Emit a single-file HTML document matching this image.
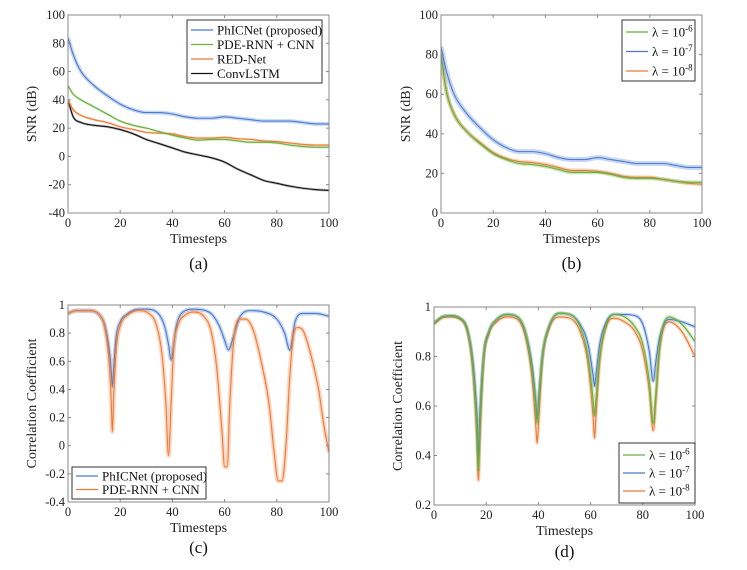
<!DOCTYPE html>
<html><head><meta charset="utf-8">
<style>
body{margin:0;background:#fff;}
svg{display:block;font-family:"Liberation Serif",serif;}
</style></head>
<body>
<svg id="fig" width="747" height="570" viewBox="0 0 747 570"></svg>
<script>
// ---------- data ----------
const snrX = [0,2,5,10,15,20,25,30,35,40,45,50,55,60,65,70,75,80,85,90,95,100];
const aPhic = [84,72,60,50,43,37,33,31,31,30,28,27,27,28,27,26,25,25,25,24,23,23];
const aPde  = [50,44,40,35,30,25,22,20,17.5,15,13,11.5,12,12,11,10,10,9.5,8,7,6.5,6.5];
const aRed  = [40,33,29,26,24,21,19,17,16.5,16,14,13,13,13.5,12.5,12,11,10.5,9.5,8.5,8,8];
const aConv = [40,28,24,22,21,19,16,12,9,6,3,1,-1,-4,-9,-13,-17,-19,-21,-22.5,-23.5,-24];
const bL6 = [80,62,50,41,35,30,27,25,24.5,23.5,22,20.5,20.5,20.5,19.5,18,17.5,17.5,17,16,15.5,15.5];
const bL7 = [84,72,60,50,43,37,33,31,31,30,28,27,27,28,27,26,25,25,25,24,23,23];
const bL8 = [80,62,50,41,35.5,30.5,27.5,26,25.5,24.5,23,21.5,21.5,21,20,18.5,18,18,17,16,15,14.5];
const snrAYTicks = [-40,-20,0,20,40,60,80,100];
const snrBYTicks = [0,20,40,60,80,100];
const xTicks = [0,20,40,60,80,100];

const cPdeX = [0,3,8,12,14,15.5,16.5,17,17.5,18.5,20,23,27,31,34,36,37.5,38.5,39.5,40.5,42,45,48,52,55,57,59,60,61,62,63.5,66,68,71,74,77,79,80.5,82,83.5,85,86.5,88,90,93,96,98,100];
const cPdeY = [0.94,0.96,0.96,0.93,0.85,0.65,0.35,0.1,0.35,0.7,0.85,0.93,0.96,0.94,0.85,0.65,0.3,-0.07,0.3,0.7,0.85,0.93,0.95,0.92,0.8,0.55,0.1,-0.15,-0.15,0.3,0.75,0.9,0.9,0.82,0.6,0.3,-0.05,-0.25,-0.25,0,0.5,0.8,0.84,0.82,0.65,0.4,0.15,-0.05];
const cPhicX = [0,3,8,12,14,15.5,16.5,17,17.5,18.5,20,23,27,30,34,37,38.5,39.5,40.5,41.5,44,48,54,58,60,61.5,63,66,70,75,80,83,85,87,90,95,100];
const cPhicY = [0.94,0.96,0.96,0.93,0.86,0.72,0.55,0.42,0.55,0.78,0.88,0.94,0.97,0.97,0.95,0.85,0.72,0.61,0.72,0.85,0.95,0.97,0.95,0.85,0.75,0.68,0.75,0.92,0.96,0.95,0.9,0.8,0.68,0.88,0.94,0.94,0.92];
const cYTicks = [-0.4,-0.2,0,0.2,0.4,0.6,0.8,1];

const dX = [0,3,6,10,13,15,16.5,17,17.5,19,21,24,28,32,35,37.5,39,39.5,40,41.5,44,48,52,56,59,61,61.5,62,63.5,66,69,73,77,80,82.5,84,85,86.5,90,95,100];
const dL6 = [0.935,0.96,0.965,0.955,0.9,0.75,0.5,0.34,0.5,0.8,0.9,0.95,0.97,0.96,0.9,0.75,0.6,0.53,0.6,0.8,0.92,0.975,0.97,0.92,0.8,0.62,0.56,0.62,0.8,0.93,0.97,0.96,0.92,0.85,0.7,0.53,0.65,0.85,0.96,0.93,0.86];
const dL7 = [0.935,0.96,0.965,0.955,0.9,0.77,0.55,0.4,0.55,0.8,0.9,0.95,0.97,0.96,0.9,0.77,0.62,0.55,0.62,0.8,0.92,0.975,0.97,0.93,0.85,0.72,0.68,0.72,0.85,0.94,0.97,0.97,0.965,0.93,0.82,0.7,0.78,0.88,0.95,0.94,0.92];
const dL8 = [0.93,0.955,0.96,0.95,0.89,0.73,0.45,0.3,0.45,0.78,0.89,0.94,0.96,0.95,0.88,0.72,0.52,0.45,0.52,0.78,0.91,0.96,0.955,0.9,0.77,0.55,0.47,0.55,0.78,0.92,0.955,0.94,0.9,0.82,0.66,0.5,0.62,0.83,0.94,0.9,0.8];
const dYTicks = [0.2,0.4,0.6,0.8,1];

// ---------- helpers ----------
const NS="http://www.w3.org/2000/svg";
const svg=document.getElementById('fig');
function mk(tag,attrs,parent){const e=document.createElementNS(NS,tag);for(const k in attrs)e.setAttribute(k,attrs[k]);(parent||svg).appendChild(e);return e;}
function monoPath(xs,ys){
  const n=xs.length,d=[],m=[];
  for(let i=0;i<n-1;i++)d.push((ys[i+1]-ys[i])/(xs[i+1]-xs[i]));
  m[0]=d[0];m[n-1]=d[n-2];
  for(let i=1;i<n-1;i++)m[i]=(d[i-1]*d[i]<=0)?0:(d[i-1]+d[i])/2;
  for(let i=0;i<n-1;i++){if(d[i]===0){m[i]=0;m[i+1]=0;continue;}const a=m[i]/d[i],b=m[i+1]/d[i],s=a*a+b*b;if(s>9){const t=3/Math.sqrt(s);m[i]=t*a*d[i];m[i+1]=t*b*d[i];}}
  let p='M'+xs[0].toFixed(2)+','+ys[0].toFixed(2);
  for(let i=0;i<n-1;i++){const h=(xs[i+1]-xs[i])/3;p+=' C'+(xs[i]+h).toFixed(2)+','+(ys[i]+m[i]*h).toFixed(2)+' '+(xs[i+1]-h).toFixed(2)+','+(ys[i+1]-m[i+1]*h).toFixed(2)+' '+xs[i+1].toFixed(2)+','+ys[i+1].toFixed(2);}
  return p;
}
function panel(o){
  const g=mk('g',{});
  
  
  const sx=v=>o.x0+(v-0)/(100)*(o.x1-o.x0);
  const sy=v=>o.y1-(v-o.ymin)/(o.ymax-o.ymin)*(o.y1-o.y0);
  const clipId='clip-'+o.name;
  const cp=mk('clipPath',{id:clipId},g);mk('rect',{x:o.x0,y:o.y0,width:o.x1-o.x0,height:o.y1-o.y0},cp);
  const plot=mk('g',{'clip-path':'url(#'+clipId+')'},g);
  
  
  o.series.forEach(s=>{
    const xs=s.x.map(sx),ys=s.y.map(sy);
    if(s.band){
      const band=mk('path',{d:monoPath(xs,ys),fill:'none',stroke:s.color,'stroke-width':s.band,opacity:0.3,'stroke-linejoin':'round'},plot);
      
      
    }
    const ln=mk('path',{d:monoPath(xs,ys),fill:'none',stroke:s.color,'stroke-width':1.1},plot);
    
    
  });
  const fr=mk('rect',{x:o.x0,y:o.y0,width:o.x1-o.x0,height:o.y1-o.y0,fill:'none',stroke:'#888','stroke-width':1},g);
  
  
  xTicks.forEach(t=>{
    const x=sx(t);
    mk('line',{x1:x,x2:x,y1:o.y1,y2:o.y1-3,stroke:'#888'},g);
    mk('line',{x1:x,x2:x,y1:o.y0,y2:o.y0+3,stroke:'#888'},g);
    const tx=mk('text',{x:x,y:o.y1+14,'text-anchor':'middle','font-size':12.5,fill:'#222'},g);tx.textContent=t;
    
    
  });
  o.yticks.forEach(t=>{
    const y=sy(t);
    mk('line',{x1:o.x0,x2:o.x0+3,y1:y,y2:y,stroke:'#888'},g);
    mk('line',{x1:o.x1,x2:o.x1-3,y1:y,y2:y,stroke:'#888'},g);
    const tx=mk('text',{x:o.x0-3,y:y+4,'text-anchor':'end','font-size':12.5,fill:'#222'},g);tx.textContent=String(t);
    
    
  });
  const xl=mk('text',{x:(o.x0+o.x1)/2,y:o.y1+30,'text-anchor':'middle','font-size':14,fill:'#222'},g);xl.textContent='Timesteps';
  
  
  const yc=(o.y0+o.y1)/2;
  const yl=mk('text',{x:o.ylx,y:yc,'text-anchor':'middle','font-size':14,fill:'#222',transform:'rotate(-90 '+o.ylx+' '+yc+')'},g);yl.textContent=o.ylabel;
  
  
  const cap=mk('text',{x:(o.x0+o.x1)/2,y:o.capY,'text-anchor':'middle','font-size':17,fill:'#111'},g);cap.textContent=o.caption;
  
  
  const L=o.legend;
  const lg=mk('g',{},g);
  
  
  mk('rect',{x:L.x,y:L.y,width:L.w,height:L.h,fill:'#fff',stroke:'#333','stroke-width':1},lg);
  L.items.forEach((it,i)=>{
    const y=L.y+L.first+i*L.step;
    const e=mk('g',{},lg);
    
    
    mk('line',{x1:L.x+4,x2:L.x+L.lineW,y1:y,y2:y,stroke:it.color,'stroke-width':1.3},e);
    const t=mk('text',{x:L.x+L.lineW+4,y:y+4.5,'font-size':13,fill:'#111'},e);
    if(it.sup){t.textContent='λ = 10';const s=mk('tspan',{dy:-5,'font-size':9},t);s.textContent=it.sup;}
    else t.textContent=it.label;
  });
}
const BLUE='#4a7bd0',GREEN='#6aaf3a',ORANGE='#ee7a35',BLACK='#111';

panel({name:'panel-a',x0:68,x1:329,y0:15,y1:213,ymin:-40,ymax:100,yticks:snrAYTicks,ylabel:'SNR (dB)',ylx:36,caption:'(a)',capY:269,
 series:[{id:'convlstm',x:snrX,y:aConv,color:BLACK,band:2.5},{id:'red-net',x:snrX,y:aRed,color:ORANGE,band:2.5},{id:'pde-rnn-cnn',x:snrX,y:aPde,color:GREEN,band:2.5},{id:'phicnet',x:snrX,y:aPhic,color:BLUE,band:4}],
 legend:{x:187,y:20,w:135,h:63,first:10,step:14.5,lineW:26,items:[{label:'PhICNet (proposed)',color:BLUE},{label:'PDE-RNN + CNN',color:GREEN},{label:'RED-Net',color:ORANGE},{label:'ConvLSTM',color:BLACK}]}});

panel({name:'panel-b',x0:441,x1:702,y0:15,y1:213,ymin:0,ymax:100,yticks:snrBYTicks,ylabel:'SNR (dB)',ylx:410,caption:'(b)',capY:269,
 series:[{id:'lambda-1e-8',x:snrX,y:bL8,color:ORANGE,band:4},{id:'lambda-1e-6',x:snrX,y:bL6,color:GREEN,band:4},{id:'lambda-1e-7',x:snrX,y:bL7,color:BLUE,band:5}],
 legend:{x:622,y:20,w:73,h:61,first:12,step:19.5,lineW:26,items:[{sup:'-6',color:GREEN},{sup:'-7',color:BLUE},{sup:'-8',color:ORANGE}]}});

panel({name:'panel-c',x0:68,x1:329,y0:305,y1:502,ymin:-0.4,ymax:1,yticks:cYTicks,ylabel:'Correlation Coefficient',ylx:36,caption:'(c)',capY:553,
 series:[{id:'phicnet',x:cPhicX,y:cPhicY,color:BLUE,band:4},{id:'pde-rnn-cnn',x:cPdeX,y:cPdeY,color:ORANGE,band:4.5}],
 legend:{x:72,y:467,w:134,h:32,first:9,step:13.5,lineW:26,items:[{label:'PhICNet (proposed)',color:BLUE},{label:'PDE-RNN + CNN',color:ORANGE}]}});

panel({name:'panel-d',x0:434,x1:695,y0:307,y1:505,ymin:0.2,ymax:1,yticks:dYTicks,ylabel:'Correlation Coefficient',ylx:402,caption:'(d)',capY:557,
 series:[{id:'lambda-1e-8',x:dX,y:dL8,color:ORANGE,band:3.5},{id:'lambda-1e-7',x:dX,y:dL7,color:BLUE,band:3.5},{id:'lambda-1e-6',x:dX,y:dL6,color:GREEN,band:3.5}],
 legend:{x:619,y:443,w:76,h:60,first:12,step:18,lineW:26,items:[{sup:'-6',color:GREEN},{sup:'-7',color:BLUE},{sup:'-8',color:ORANGE}]}});
</script>
</body></html>
